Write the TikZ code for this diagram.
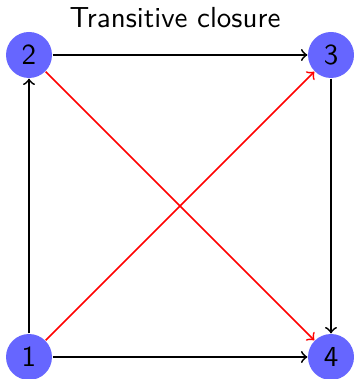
\documentclass[tikz,border=0pt]{standalone}
\usetikzlibrary{arrows}
\begin{document}
\begin{tikzpicture}[x=0.3448pt,y=-0.3448pt,
  vertex/.style={circle,fill=blue!60,minimum size=15.86pt,inner sep=0pt,font=\sffamily},
  edge/.style={->,semithick},
  redge/.style={->,semithick,red}]
\useasboundingbox (0,0) rectangle (353,379);
\node[anchor=base,font=\sffamily] (title) at (175,28) {Transitive closure};
\node[vertex] (n2) at (29,55) {2};
\node[vertex] (n3) at (331,55) {3};
\node[vertex] (n1) at (29,357) {1};
\node[vertex] (n4) at (331,357) {4};
\draw[edge] (n1) -- (n2);
\draw[edge] (n2) -- (n3);
\draw[edge] (n3) -- (n4);
\draw[edge] (n1) -- (n4);
\draw[redge] (n1) -- (n3);
\draw[redge] (n2) -- (n4);
\end{tikzpicture}
\end{document}
